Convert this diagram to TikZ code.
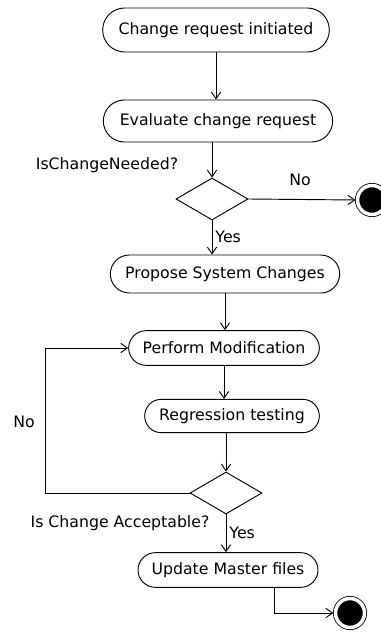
\documentclass[tikz,border=0pt]{standalone}
\usepackage{fontspec}
\setmainfont{DejaVu Sans}
\usepackage{tikz}
\usetikzlibrary{positioning,shapes.misc,shapes.geometric,arrows.meta}

\begin{document}
\begin{tikzpicture}[->,>={Straight Barb[length=5pt,width=7pt]},x=0.75pt,y=-0.75pt,
  line width=0.7pt,
  act node/.style={rounded rectangle,draw,inner sep=0pt,font=\fontsize{11.8}{13}\selectfont},
  dec node/.style={diamond,draw,inner sep=0pt,minimum width=54pt,minimum height=31.5pt},
  end node/.style={circle,fill=black,draw,double,double distance=2.6pt,line width=0.6pt,
    inner sep=0pt,minimum size=21.75pt,outer sep=1.6pt},
  lbl/.style={inner sep=0pt,font=\fontsize{11.8}{13}\selectfont}]

\useasboundingbox (0,0) rectangle (381,634);

\node[act node,minimum width=170pt,minimum height=33pt] (start) at (216,30) {Change request initiated};
\node[act node,minimum width=172pt,minimum height=31.5pt] (evaluate) at (218,121) {Evaluate change request};
\node[dec node] (needed) at (212,199) {};
\node[end node] (endA) at (372,200) {};
\node[act node,minimum width=172pt,minimum height=28.5pt] (propose) at (225,274) {Propose System Changes};
\node[act node,minimum width=143pt,minimum height=26pt] (perform) at (224,348) {Perform Modification};
\node[act node,minimum width=131pt,minimum height=25pt] (regress) at (232,416) {Regression testing};
\node[dec node] (accept) at (226,493) {};
\node[act node,minimum width=135pt,minimum height=26pt] (update) at (228,570) {Update Master files};
\node[end node] (endB) at (350,613) {};

\node[lbl] (qA) at (107,165) {IsChangeNeeded?};
\node[lbl] (noA) at (300,180) {No};
\node[lbl,anchor=west] (yesA) at (215,237) {Yes};
\node[lbl] (noB) at (24,422) {No};
\node[lbl] (qB) at (120,523) {Is Change Acceptable?};
\node[lbl,anchor=west] (yesB) at (229,533) {Yes};

\coordinate (loop) at (45,0);

\draw (start.south) -- (start.south |- evaluate.north);
\draw (needed.north |- evaluate.south) -- (needed.north);
\draw (needed.east) -- (endA.west);
\draw (needed.south) -- (needed.south |- propose.north);
\draw (propose.south) -- (propose.south |- perform.north);
\draw (perform.south) -- (perform.south |- regress.north);
\draw (accept.north |- regress.south) -- (accept.north);
\draw (accept.west) -| (loop |- perform.west) -- (perform.west);
\draw (accept.south) -- (accept.south |- update.north);
\draw ([xshift=34.5pt]update.south) |- (endB.west);
\end{tikzpicture}
\end{document}
